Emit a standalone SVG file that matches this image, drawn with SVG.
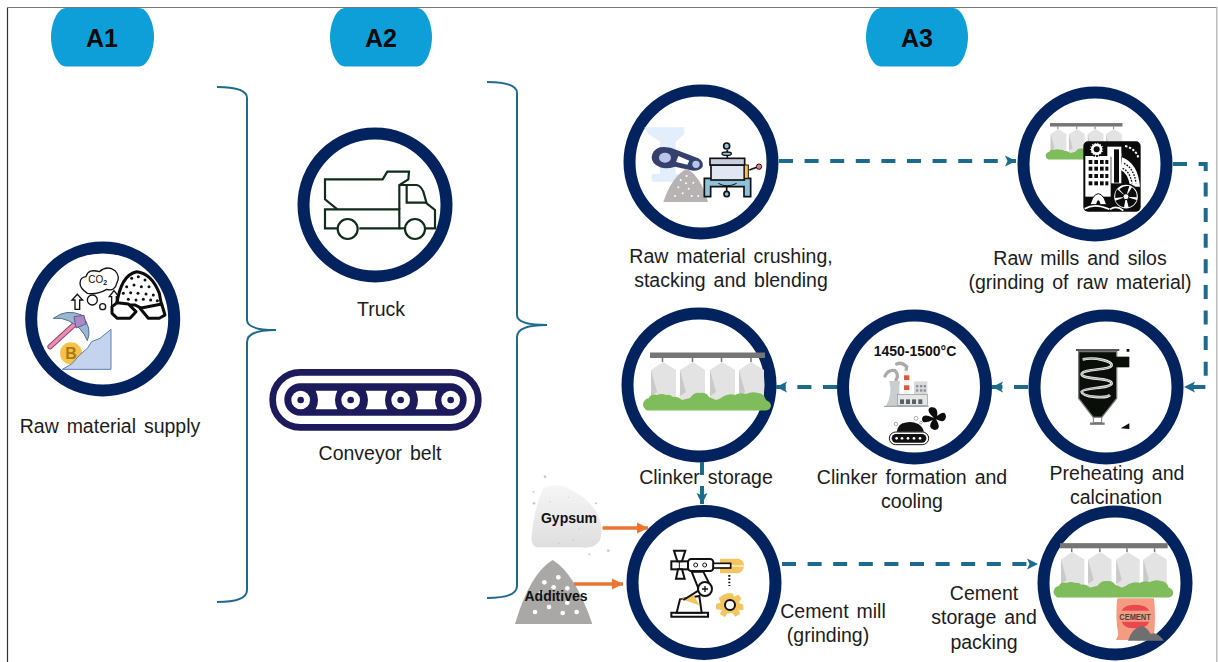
<svg xmlns="http://www.w3.org/2000/svg" width="1218" height="662" viewBox="0 0 1218 662">
<style>
text{font-family:"Liberation Sans",Arial,sans-serif;fill:#1c1c1c}
.lb{font-size:19.500px;text-anchor:middle;word-spacing:2.500px}
.b{font-weight:700;fill:#111}
.pill{fill:#0f9fd8}
.pt{font-size:25px;font-weight:700;text-anchor:middle;fill:#0a0a0a}
.ring{fill:#fff;stroke:#03235f;stroke-width:12}
.br{fill:none;stroke:#1f6a8c;stroke-width:2}
.d{fill:none;stroke:#1c6a8c;stroke-width:4;stroke-dasharray:14 11.600;marker-end:url(#h)}
.s{fill:none;stroke:#1c6a8c;stroke-width:4}
.o{fill:none;stroke:#ed7430;stroke-width:3.600;marker-end:url(#ho)}
</style>
<defs>
<marker id="h" markerUnits="userSpaceOnUse" markerWidth="12" markerHeight="12" refX="11" refY="6" orient="auto"><path d="M0,.5 L11,6 L0,11.500 L2.500,6z" fill="#1c6a8c"/></marker>
<marker id="ho" markerUnits="userSpaceOnUse" markerWidth="12" markerHeight="12" refX="11" refY="6" orient="auto"><path d="M0,.5 L11,6 L0,11.500z" fill="#ed7430"/></marker>
<linearGradient id="gy" x1="0" y1="0" x2="0" y2="1"><stop offset="0" stop-color="#f6f6f6"/><stop offset="1" stop-color="#dedede"/></linearGradient>
<g id="silos">
<rect x="40" y="52.500" width="115" height="5.500" fill="#757575"/>
<g fill="#e3e3e3">
<path d="M41,70 L53,62 L66,70 V100 H41z"/><path d="M70,70 L83,62 L95,70 V100 H70z"/><path d="M100,70 L112,62 L125,70 V100 H100z"/><path d="M129,70 L141,62 L154,70 V100 H129z"/>
</g>
<path d="M41,70 L47,92 L41,96z M70,70 L76,92 L70,96z M100,70 L106,92 L100,96z M129,70 L135,92 L129,96z" fill="#c9c9c9"/>
<path d="M52.500,58v4M82.500,58v4M111.500,58v4M141,58v4" stroke="#757575" stroke-width="1.500"/>
<path d="M37,110.500 Q33,108 33,104 Q34,99 39,98 Q41,93 47,95 Q52,93 56,95 Q60,94 63,97 Q68,96 72,100 Q76,99 80,98 Q84,92 90,93 Q96,92 99,97 L106,100 Q110,99 114,96 Q120,93 125,95 Q130,92 136,94 Q142,91 148,93 Q154,93 156,100 Q161,102 161,106 Q160,110 156,110.500z" fill="#7fbc5b"/>
</g>
</defs>
<g id="frame">
<path d="M7.500,662 V7.500" stroke="#333" stroke-width="1.200" fill="none"/>
<path d="M7.500,7.500 H1217" stroke="#777" stroke-width="1.200" fill="none"/>
<path d="M1216.800,7.500 V662" stroke="#bbb" stroke-width="1.500" fill="none"/>
</g>
<g id="A1"><path class="pill" d="M66,8 H139 C148,8 154,24 154,37 C154,50 148,66.500 139,66.500 H66 C57,66.500 51,50 51,37 C51,24 57,8 66,8z"/><text class="pt" x="102" y="46.500">A1</text></g>
<g id="A2"><path class="pill" d="M345,8 H417 C426,8 432,24 432,37 C432,50 426,66.500 417,66.500 H345 C336,66.500 330,50 330,37 C330,24 336,8 345,8z"/><text class="pt" x="381" y="46.500">A2</text></g>
<g id="A3"><path class="pill" d="M881,8 H953 C962,8 968,24 968,37 C968,50 962,66.500 953,66.500 H881 C872,66.500 866,50 866,37 C866,24 872,8 881,8z"/><text class="pt" x="917" y="46.500">A3</text></g>
<g id="brace-1"><path class="br" d="M217,87 C236,87 247,90 247,98 V320 C247,327 258,330 276,330 C258,330 247,333 247,342 V590 C247,598 236,602 217,602"/></g>
<g id="brace-2"><path class="br" d="M487,82 C506,82 517,85 517,93 V315 C517,322 528,325 547,325 C528,325 517,328 517,337 V586 C517,594 506,598 487,598"/></g>

<g id="raw-material-supply">
<circle class="ring" cx="102.700" cy="319" r="71.500"/>
<g transform="scale(.33333)">
<circle cx="213" cy="1060" r="33" fill="#f5c24c"/>
<text x="213" y="1078" font-size="48" font-weight="700" text-anchor="middle" style="fill:#a97a10">B</text>
<path d="M187,1108 L215,1092 L240,1064 L262,1045 L275,1025 L300,1015 L333,988 V1108z" fill="#c5d4ee" stroke="#5a80b5" stroke-width="3"/>
<path d="M150,1040 L232,965" stroke="#8a4a72" stroke-width="16" stroke-linecap="round"/>
<path d="M150,1040 L232,965" stroke="#f08bb0" stroke-width="10" stroke-linecap="round"/>
<path d="M160,955 Q200,925 245,945 Q278,985 262,1022 Q245,980 205,962 Q185,952 160,955z" fill="#9db6cf" stroke="#4a6f96" stroke-width="3"/>
<path d="M222,950 L252,946 L258,972 L228,984z" fill="#a98ac2" stroke="#6d5490" stroke-width="3"/>
<path d="M225,928 V900 H216 L232,883 L248,900 H239 V928z" fill="#fff" stroke="#111" stroke-width="4"/>
<circle cx="277" cy="900" r="15" fill="#fff" stroke="#111" stroke-width="4"/><circle cx="308" cy="920" r="9" fill="#fff" stroke="#111" stroke-width="4"/>
<path d="M335,925 V890 H328 L342,872 L356,890 H349 V925z" fill="#fff" stroke="#111" stroke-width="4"/>
<path d="M262,880 Q240,865 240,850 Q240,832 258,830 Q265,805 298,815 Q322,795 345,812 Q362,830 350,850 Q345,875 320,868 Q290,885 262,880z" fill="#fff" stroke="#111" stroke-width="4"/>
<text x="265" y="848" font-size="30" style="fill:#111">CO<tspan dy="6" font-size="21" font-weight="700">2</tspan></text>
<path d="M350,915 Q362,825 410,815 Q455,820 478,880 L490,945 L425,925 L405,915z" fill="#fff" stroke="#0b0b0b" stroke-width="9"/>
<g fill="#111"><circle cx="395" cy="835" r="4.500"/><circle cx="415" cy="830" r="4.500"/><circle cx="435" cy="840" r="4.500"/><circle cx="380" cy="860" r="4.500"/><circle cx="402" cy="855" r="4.500"/><circle cx="424" cy="860" r="4.500"/><circle cx="447" cy="860" r="4.500"/><circle cx="370" cy="880" r="4.500"/><circle cx="392" cy="878" r="4.500"/><circle cx="414" cy="880" r="4.500"/><circle cx="438" cy="882" r="4.500"/><circle cx="460" cy="885" r="4.500"/><circle cx="385" cy="898" r="4.500"/><circle cx="408" cy="900" r="4.500"/><circle cx="430" cy="898" r="4.500"/><circle cx="452" cy="900" r="4.500"/><circle cx="472" cy="902" r="4.500"/></g>
<path d="M352,908 L385,912 L408,935 L390,955 H352 L336,940 V920z" fill="#fff" stroke="#0b0b0b" stroke-width="9" stroke-linejoin="round"/>
<path d="M420,925 L485,912 L495,945 L478,955 H445z" fill="#fff" stroke="#0b0b0b" stroke-width="9" stroke-linejoin="round"/>
</g>
<text class="lb" x="110" y="433">Raw material supply</text>
</g>

<g id="truck">
<circle class="ring" cx="375" cy="205" r="71.500"/>
<g transform="translate(260,120) scale(.33333)" fill="none" stroke="#0f2b1a" stroke-width="6.500" stroke-linejoin="miter">
<path d="M232,268 L195,238 V178 H368 L382,155 H447 L445,178 L418,195 V268"/>
<path d="M232,325 H195 V268 H418 V325 H298"/>
<path d="M418,195 H470 Q482,197 490,215 L500,250 L525,270 V325 H497"/>
<path d="M440,198 V248 H498"/>
<path d="M418,325 H432"/>
<circle cx="263" cy="327" r="30"/><circle cx="465" cy="327" r="30"/>
</g>
<text class="lb" x="381" y="316">Truck</text>
</g>

<g id="conveyor-belt">
<g transform="translate(260,120) scale(.33333)">
<rect x="38" y="757" width="617" height="165" rx="82" fill="#fff" stroke="#1d1a5b" stroke-width="20"/>
<rect x="73" y="790" width="547" height="97" rx="48" fill="#1d1a5b"/>
<g fill="#fff"><circle cx="122" cy="840" r="28"/><circle cx="272" cy="840" r="28"/><circle cx="422" cy="840" r="28"/><circle cx="572" cy="840" r="28"/>
<path d="M167,812 H232 Q218,840 232,868 H167 Q181,840 167,812z M317,812 H382 Q368,840 382,868 H317 Q331,840 317,812z M467,812 H532 Q518,840 532,868 H467 Q481,840 467,812z"/></g>
<g fill="#1d1a5b"><circle cx="122" cy="840" r="10"/><circle cx="272" cy="840" r="10"/><circle cx="422" cy="840" r="10"/><circle cx="572" cy="840" r="10"/></g>
</g>
<text class="lb" x="380" y="460">Conveyor belt</text>
</g>

<g id="raw-material-crushing">
<circle class="ring" cx="701" cy="162" r="71.500"/>
<g transform="translate(610,70) scale(.33333)">
<path d="M102,172 H223 V192 L197,215 V312 H222 V335 H125 V312 H150 V215 L115,192z" fill="#d3e5f9" opacity=".65"/>
<path d="M150,232 Q175,228 200,240 L265,265 Q282,275 278,290 Q270,302 250,302 L195,290 Q170,298 150,292 Q125,282 125,262 Q128,238 150,232z" fill="#35406f"/>
<path d="M205,258 L238,272 L232,284 L198,276z" fill="#fff"/>
<ellipse cx="165" cy="263" rx="18" ry="15" fill="#b9c6e8"/><circle cx="258" cy="283" r="11" fill="#b9c6e8"/>
<path d="M160,396 Q185,320 230,296 Q272,318 294,396z" fill="#b7b3b3"/>
<g fill="#fff"><circle cx="212" cy="330" r="3"/><circle cx="230" cy="318" r="3"/><circle cx="250" cy="338" r="3"/><circle cx="205" cy="352" r="3"/><circle cx="228" cy="340" r="3"/><circle cx="236" cy="356" r="3"/><circle cx="218" cy="370" r="3"/><circle cx="195" cy="378" r="3"/><circle cx="245" cy="378" r="3"/><circle cx="265" cy="378" r="3"/></g>
<path d="M283,325 H422 V380 H402 V350 H302 V380 H283z" fill="#8fc1d9" stroke="#111" stroke-width="5"/>
<rect x="303" y="285" width="100" height="45" fill="#e0e6f2" stroke="#111" stroke-width="5"/>
<rect x="300" y="265" width="104" height="20" fill="#c5cfe0" stroke="#111" stroke-width="5"/>
<rect x="403" y="285" width="12" height="40" fill="#f5c84c" stroke="#111" stroke-width="3"/>
<path d="M352,265 V240" stroke="#111" stroke-width="5"/><circle cx="350" cy="228" r="9" fill="#8fc1d9" stroke="#111" stroke-width="5"/><ellipse cx="350" cy="251" rx="14" ry="5" fill="#8fc1d9" stroke="#111" stroke-width="4"/>
<path d="M350,350 V365" stroke="#111" stroke-width="5"/><circle cx="350" cy="372" r="8" fill="#8fc1d9" stroke="#111" stroke-width="5"/>
<path d="M418,300 L440,292" stroke="#111" stroke-width="5"/><circle cx="447" cy="290" r="8" fill="#ef7a85" stroke="#111" stroke-width="3"/>
<path d="M325,340 Q350,355 380,340" fill="none" stroke="#111" stroke-width="3"/>
</g>
<text class="lb" x="731" y="263">Raw material crushing,</text>
<text class="lb" x="731" y="287">stacking and blending</text>
</g>

<g id="raw-mills-silos">
<circle class="ring" cx="1095" cy="164" r="71.500"/>
<use href="#silos" transform="translate(1024.800,90) scale(.63)"/>
<g transform="translate(1000,70) scale(.33333)">
<rect x="250" y="214" width="172" height="211" rx="14" fill="#0b0b0b"/>
<rect x="256" y="258" width="76" height="122" fill="#fff"/>
<g fill="#0b0b0b"><rect x="266" y="270" width="11" height="12"/><rect x="283" y="270" width="11" height="12"/><rect x="300" y="270" width="11" height="12"/><rect x="316" y="270" width="9" height="12"/><rect x="266" y="290" width="11" height="12"/><rect x="283" y="290" width="11" height="12"/><rect x="300" y="290" width="11" height="12"/><rect x="316" y="290" width="9" height="12"/><rect x="266" y="312" width="11" height="12"/><rect x="283" y="312" width="11" height="12"/><rect x="300" y="312" width="11" height="12"/><rect x="316" y="312" width="9" height="12"/><rect x="266" y="334" width="11" height="12"/><rect x="283" y="334" width="11" height="12"/><rect x="300" y="334" width="11" height="12"/><rect x="316" y="334" width="9" height="12"/></g>
<rect x="322" y="230" width="42" height="30" fill="#fff"/><rect x="334" y="250" width="30" height="90" fill="#fff"/>
<rect x="342" y="238" width="15" height="100" fill="#0b0b0b"/>
<circle cx="290" cy="238" r="20" fill="#fff" stroke="#0b0b0b" stroke-width="6" stroke-dasharray="6 3"/><circle cx="290" cy="238" r="9" fill="#0b0b0b"/>
<path d="M366,262 Q414,280 420,350 H390 Q385,310 362,300z" fill="#fff"/>
<path d="M372,280 Q402,295 408,340 M368,295 Q390,305 396,340" fill="none" stroke="#0b0b0b" stroke-width="4" stroke-dasharray="5 4"/>
<path d="M375,228 Q405,235 415,262" fill="none" stroke="#fff" stroke-width="6" stroke-dasharray="7 5"/>
<circle cx="378" cy="380" r="38" fill="#fff" stroke="#0b0b0b" stroke-width="5"/>
<g fill="#0b0b0b"><path d="M378,380 L358,358 Q370,346 388,348z"/><path d="M378,380 L396,352 Q412,365 410,382z"/><path d="M378,380 L410,390 Q402,408 386,412z"/><path d="M378,380 L372,412 Q354,408 346,392z"/><path d="M378,380 L346,384 Q344,368 352,358z"/></g>
<circle cx="378" cy="380" r="9" fill="#fff" stroke="#0b0b0b" stroke-width="3"/>
<path d="M278,384 Q295,358 312,384 L320,404 H270z" fill="#fff" stroke="#0b0b0b" stroke-width="3"/>
<path d="M288,404 Q295,378 302,404z" fill="#0b0b0b"/>
<path d="M254,416 Q285,398 328,418 M330,418 Q350,405 370,422" fill="none" stroke="#fff" stroke-width="5"/>
</g>
<text class="lb" x="1080" y="265">Raw mills and silos</text>
<text class="lb" x="1080" y="289">(grinding of raw material)</text>
</g>

<g id="clinker-storage">
<circle class="ring" cx="699" cy="385" r="71.500"/>
<use href="#silos" transform="translate(610,300)"/>
<text class="lb" x="706" y="484">Clinker storage</text>
</g>

<g id="clinker-formation">
<circle class="ring" cx="914.500" cy="387" r="71.500"/>
<text x="915" y="356" text-anchor="middle" class="b" style="font-size:14px">1450-1500°C</text>
<g transform="translate(610,300) scale(.33333)">
<path d="M825,228 Q835,208 855,212 Q868,226 858,240 M860,192 Q875,185 890,200 L888,215" fill="none" stroke="#aaa" stroke-width="10" stroke-linecap="round"/>
<path d="M828,318 Q848,285 838,243 H870 Q862,285 880,318z" fill="#c9cdd0"/>
<rect x="882" y="212" width="16" height="76" fill="#f1f1f1"/><rect x="882" y="226" width="16" height="14" fill="#d9593a"/><rect x="882" y="256" width="16" height="14" fill="#d9593a"/>
<rect x="912" y="244" width="40" height="72" fill="#d8dbdd"/>
<g fill="#8b9094"><rect x="918" y="255" width="7" height="7"/><rect x="930" y="255" width="7" height="7"/><rect x="941" y="255" width="7" height="7"/><rect x="918" y="268" width="7" height="7"/><rect x="930" y="268" width="7" height="7"/><rect x="941" y="268" width="7" height="7"/></g>
<rect x="862" y="284" width="90" height="32" fill="#e6e6e6" stroke="#8f9599" stroke-width="2"/>
<g fill="#5a6064"><rect x="870" y="298" width="12" height="14"/><rect x="888" y="298" width="12" height="14"/><rect x="906" y="298" width="12" height="14"/><rect x="925" y="298" width="12" height="14"/></g>
<path d="M822,319 H956" stroke="#8f9599" stroke-width="3"/>
<path d="M972,354 Q945,330 962,322 Q985,318 982,348 Q1006,328 1008,350 Q1005,372 978,358 Q996,388 975,390 Q950,385 968,360 Q936,376 936,356 Q940,338 972,354z" fill="#0b0b0b"/>
<circle cx="918" cy="355" r="6" fill="#fff" stroke="#888" stroke-width="2"/><circle cx="933" cy="368" r="4" fill="#fff" stroke="#888" stroke-width="2"/><circle cx="858" cy="372" r="5" fill="#fff" stroke="#888" stroke-width="2"/>
<path d="M860,395 Q865,370 885,368 Q905,362 925,372 Q938,380 942,395z" fill="#111"/>
<rect x="838" y="396" width="118" height="38" rx="19" fill="#fff" stroke="#111" stroke-width="3"/>
<rect x="845" y="402" width="104" height="26" rx="13" fill="#111"/>
<g fill="#fff"><circle cx="860" cy="415" r="4"/><circle cx="876" cy="415" r="4"/><circle cx="894" cy="415" r="4"/><circle cx="912" cy="415" r="4"/><circle cx="930" cy="415" r="4"/></g>
</g>
<text class="lb" x="912" y="484">Clinker formation and</text>
<text class="lb" x="912" y="508">cooling</text>
</g>

<g id="preheating-calcination">
<circle class="ring" cx="1106" cy="387" r="71.500"/>
<g transform="translate(1000,300) scale(.33333)">
<path d="M228,150 H358" stroke="#555" stroke-width="6"/>
<path d="M236,155 H350 V295 L305,352 H280 L236,295z" fill="#0a0e08" stroke="#777" stroke-width="4"/>
<path d="M348,170 H388 V202 H348z" fill="#0a0e08"/><path d="M380,147 H388 V155 H380z M362,385 L388,370 V387z" fill="#0a0e08"/>
<path d="M280,352 H305 V368 H280z" fill="#fff" stroke="#777" stroke-width="3"/><path d="M270,371 H314" stroke="#777" stroke-width="7"/>
<path id="coil" d="M248,178 C290,170 335,185 335,195 C335,212 250,205 245,222 C245,240 335,232 335,250 C335,266 250,262 245,275 C248,292 320,296 330,285" fill="none" stroke="#eee" stroke-width="8"/>
<path d="M248,178 C290,170 335,185 335,195 C335,212 250,205 245,222 C245,240 335,232 335,250 C335,266 250,262 245,275 C248,292 320,296 330,285" fill="none" stroke="#555" stroke-width="1.500"/>
</g>
<text class="lb" x="1117" y="480">Preheating and</text>
<text class="lb" x="1116" y="504">calcination</text>
</g>

<g id="gypsum">
<g transform="translate(510,460) scale(.33333)">
<path d="M100,85 Q140,65 180,88 Q230,110 262,160 Q282,205 270,240 Q255,268 210,262 L80,262 Q62,255 65,230 Q70,150 100,85z" fill="url(#gy)"/>
<g fill="#c9c9c9"><circle cx="105" cy="50" r="4"/><circle cx="70" cy="95" r="3"/><circle cx="72" cy="130" r="4"/><circle cx="258" cy="130" r="3"/><circle cx="295" cy="272" r="4"/><circle cx="238" cy="283" r="3"/><circle cx="120" cy="125" r="2"/><circle cx="175" cy="112" r="2"/><circle cx="208" cy="207" r="2"/><circle cx="148" cy="250" r="2"/><circle cx="190" cy="240" r="2"/></g>
</g>
<text class="b" x="569" y="523" text-anchor="middle" style="font-size:14px">Gypsum</text>
</g>

<g id="additives">
<g transform="translate(510,460) scale(.33333)">
<path d="M15,492 Q60,340 128,300 Q195,340 247,492z" fill="#aaa7a7"/>
<g fill="#fff"><circle cx="103" cy="367" r="7"/><circle cx="145" cy="352" r="7"/><circle cx="131" cy="382" r="7"/><circle cx="172" cy="385" r="7"/><circle cx="92" cy="400" r="7"/><circle cx="172" cy="428" r="7"/><circle cx="117" cy="441" r="7"/><circle cx="75" cy="456" r="7"/><circle cx="158" cy="459" r="7"/><circle cx="200" cy="456" r="7"/></g>
</g>
<text class="b" x="556" y="601" text-anchor="middle" style="font-size:14px">Additives</text>
</g>

<g id="cement-mill">
<circle class="ring" cx="704" cy="582.500" r="71.500"/>
<g transform="translate(510,460) scale(.33333)">
<path d="M630,296 H685 Q702,300 702,316 Q702,334 685,340 H630z" fill="#f3c55f"/>
<path d="M635,318 H702" stroke="#fff" stroke-width="3"/>
<path d="M658,345 V378" stroke="#111" stroke-width="6" stroke-dasharray="5 5"/>
<path d="M652,400 L668,400 L672,410 L686,404 L694,416 L686,428 L700,434 L700,450 L686,450 L690,462 L676,470 L668,460 L652,460 L645,472 L630,462 L636,450 L618,448 L618,432 L632,428 L626,414 L640,404z" fill="#f3c55f"/>
<circle cx="660" cy="435" r="15" fill="#fff" stroke="#111" stroke-width="6"/>
<path d="M484,470 H594 V458 H484z" fill="#fff" stroke="#111" stroke-width="6"/>
<path d="M500,458 L510,418 L568,408 L575,458z" fill="#fff" stroke="#111" stroke-width="6"/>
<path d="M510,418 L552,406 L568,436 L515,418z" fill="#f3c55f"/>
<path d="M545,335 L580,335 L600,375 L565,385z" fill="#fff" stroke="#111" stroke-width="6"/>
<path d="M520,420 L565,392" stroke="#111" stroke-width="6"/>
<circle cx="585" cy="387" r="21" fill="#fff" stroke="#111" stroke-width="6"/>
<path d="M585,378 V396 M576,387 H594" stroke="#111" stroke-width="4"/>
<rect x="534" y="297" width="76" height="36" rx="10" fill="#fff" stroke="#111" stroke-width="6"/>
<circle cx="557" cy="315" r="6" fill="#fff" stroke="#111" stroke-width="3"/><circle cx="584" cy="315" r="6" fill="#fff" stroke="#111" stroke-width="3"/>
<rect x="610" y="310" width="52" height="14" fill="#fff" stroke="#111" stroke-width="5"/>
<rect x="484" y="304" width="50" height="24" fill="#fff" stroke="#111" stroke-width="6"/>
<path d="M508,304 V328" stroke="#111" stroke-width="3"/>
<path d="M492,272 H526 L516,304 H502z M498,356 H524 L516,328 H504z" fill="#fff" stroke="#111" stroke-width="6"/>
</g>
<text class="lb" x="833" y="618">Cement mill</text>
<text class="lb" x="828" y="642">(grinding)</text>
</g>

<g id="cement-storage">
<circle class="ring" cx="1115" cy="583" r="71.500"/>
<use href="#silos" transform="translate(1022.600,494) scale(.936)"/>
<g transform="translate(1000,500) scale(.33333)">
<path d="M352,295 H462 Q468,350 462,405 L468,420 H348 L355,405 Q345,350 352,295z" fill="#f49b82"/>
<path d="M365,332 Q372,314 405,314 Q440,314 448,332z M365,365 H448 Q440,385 405,385 Q372,385 365,365z" fill="#e8484e"/>
<text x="405" y="360" font-size="27" font-weight="700" text-anchor="middle" textLength="94" lengthAdjust="spacingAndGlyphs" style="fill:#444">CEMENT</text>
<path d="M384,422 Q395,385 425,377 Q442,382 452,402 Q470,392 492,422z" fill="#6f6f6f"/>
</g>
<text class="lb" x="984" y="600">Cement</text>
<text class="lb" x="984" y="624">storage and</text>
<text class="lb" x="984" y="649">packing</text>
</g>

<g id="connectors">
<path class="d" d="M779,161 H1016"/>
<path class="d" d="M1173,164 H1205.700 V387 H1184"/>
<path class="d" d="M1028,387 H992"/>
<path class="d" d="M837,387 H776"/>
<path class="s" d="M702,462 V475"/>
<path class="s" d="M702,486 V504" style="marker-end:url(#h)"/>
<path class="d" d="M782,564 H1038"/>
<path class="o" d="M602.500,528 H648"/>
<path class="o" d="M574,584 H623"/>
</g>
</svg>
